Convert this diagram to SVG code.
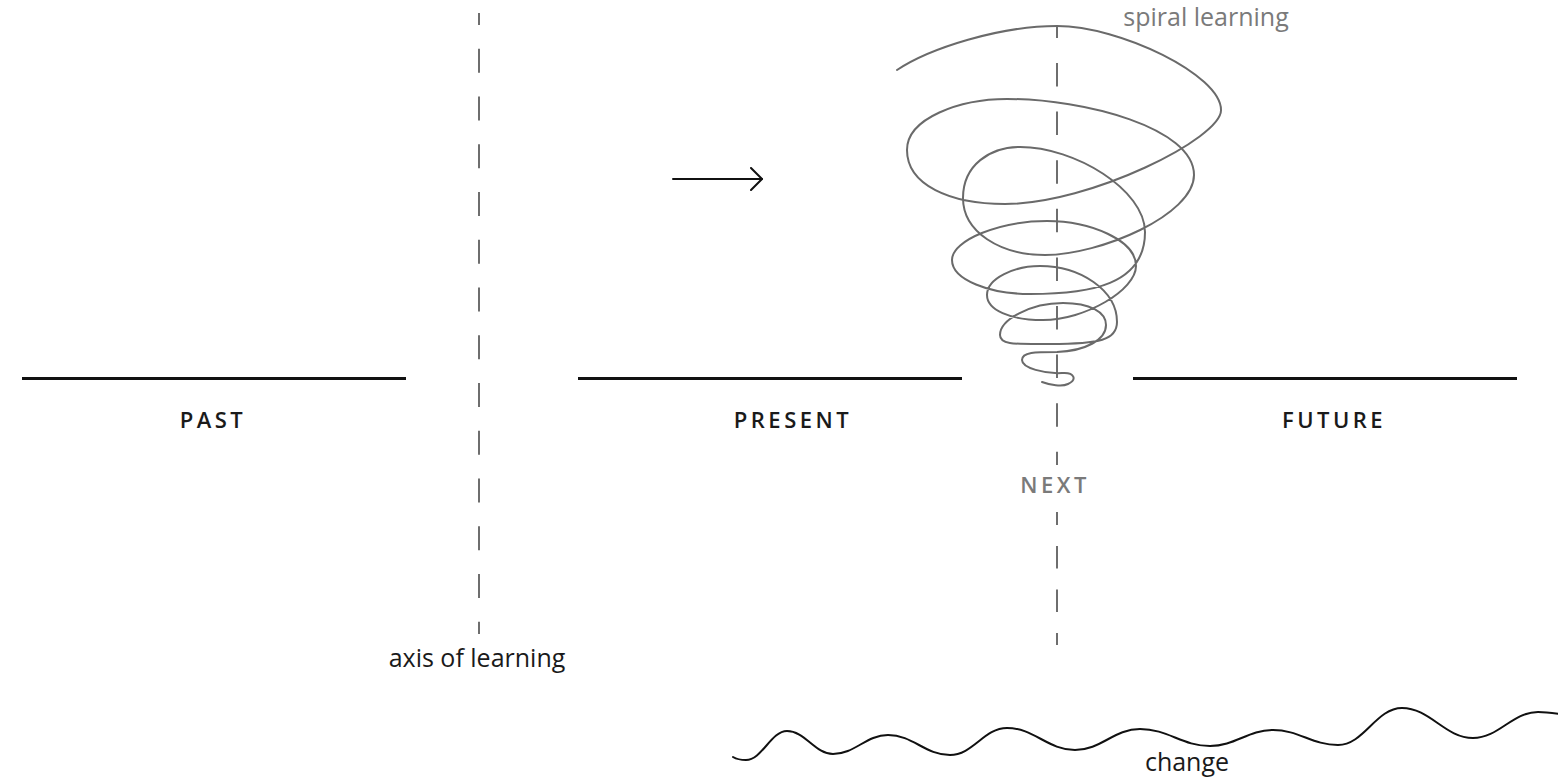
<svg xmlns="http://www.w3.org/2000/svg" width="1558" height="778" viewBox="0 0 1558 778">
<defs>
<style>
.lbl{font-family:"Open Sans","Liberation Sans",sans-serif;font-size:22px;font-weight:600;letter-spacing:3.5px;fill:#1a1a1a;text-anchor:middle}
.cap{font-family:"Open Sans","Liberation Sans",sans-serif;font-size:25px;fill:#1a1a1a;text-anchor:middle}
.gray{fill:#7a7a7a}
.axis{stroke:#6e6e6e;stroke-width:2;fill:none}
.time{stroke:#111;stroke-width:3;fill:none}
.ink{stroke:#111;stroke-width:2;fill:none;stroke-linecap:round;stroke-linejoin:round}
.spiral{stroke:#6a6a6a;stroke-width:2;fill:none;stroke-linecap:round}
</style>
<marker id="chev" viewBox="0 0 14 24" refX="12" refY="12" markerWidth="14" markerHeight="24" markerUnits="userSpaceOnUse" orient="auto">
<path d="M1,1 L12,12 L1,23" fill="none" stroke="#111" stroke-width="2" stroke-linecap="round" stroke-linejoin="round"/>
</marker>
</defs>
<rect width="1558" height="778" fill="#fff"/>

<g id="past">
<line class="time" x1="22" y1="378.5" x2="406" y2="378.5"/>
<text class="lbl" x="213" y="428">PAST</text>
</g>
<g id="present">
<line class="time" x1="578" y1="378.5" x2="962" y2="378.5"/>
<text class="lbl" x="793" y="428">PRESENT</text>
</g>
<g id="future">
<line class="time" x1="1133" y1="378.5" x2="1517" y2="378.5"/>
<text class="lbl" x="1334" y="428">FUTURE</text>
</g>

<g id="axis-of-learning">
<line class="axis" x1="479" y1="13" x2="479" y2="634" stroke-dasharray="23.9 23.85" stroke-dashoffset="12"/>
<text class="cap" x="477" y="667">axis of learning</text>
</g>

<g id="next">
<line class="axis" x1="1057" y1="27" x2="1057" y2="465" stroke-dasharray="23.5 25.1" stroke-dashoffset="12.6"/>
<line class="axis" x1="1057" y1="512" x2="1057" y2="645" stroke-dasharray="22.5 21" stroke-dashoffset="9.5"/>
<text class="lbl gray" x="1055" y="493" style="letter-spacing:3.5px">NEXT</text>
</g>

<g id="spiral-learning">
<path class="spiral" d="M897,70 C930,48 1000,26 1057,26 C1120,26 1221,75 1221,110 C1222,138 1090,204 1005,204 C950,204 907,185 907,150 C907,118 960,99 1007,99 C1085,99 1194,128 1194,175 C1194,215 1100,255 1045,255 C1000,255 963,232 963,198 C963,165 990,147 1020,147 C1075,147 1145,190 1145,232 C1145,285 1090,294 1030,294 C990,294 952,280 952,260 C952,240 1000,221 1047,221 C1090,221 1136,240 1136,266 C1136,290 1085,320 1043,320 C1010,320 987,310 987,295 C987,278 1015,266 1040,266 C1080,266 1117,290 1117,322 C1117,340 1100,344 1050,344 C1015,344 1000,345 1000,335 C1000,320 1030,303 1063,303 C1090,303 1106,312 1106,325 C1106,340 1085,351 1057,352 C1035,352 1022,352 1022,360 C1022,368 1045,374 1062,373 C1075,372 1077,380 1068,384 C1062,387 1050,385 1042,382"/>
<text class="cap gray" x="1206" y="26">spiral learning</text>
</g>

<g id="change">
<path class="ink" d="M733,757 C738,760 742,760 746,760 C762,760 771,731 787,731 C805,731 815,754 833,754 C855,754 866,735 888,735 C913,735 925,755 950,755 C973,755 984,728 1007,728 C1034,728 1048,750 1075,750 C1101,750 1114,729 1140,729 C1168,729 1182,746 1210,746 C1235,746 1248,730 1273,730 C1299,730 1312,745 1338,745 C1364,745 1376,708 1402,708 C1430,708 1445,738 1473,738 C1499,738 1512,712 1538,712 C1546,712 1553,713 1560,714"/>
<text class="cap" x="1187" y="771">change</text>
</g>

<g id="connectors">
<line class="ink" x1="673" y1="179" x2="762" y2="179" marker-end="url(#chev)"/>
</g>
</svg>
